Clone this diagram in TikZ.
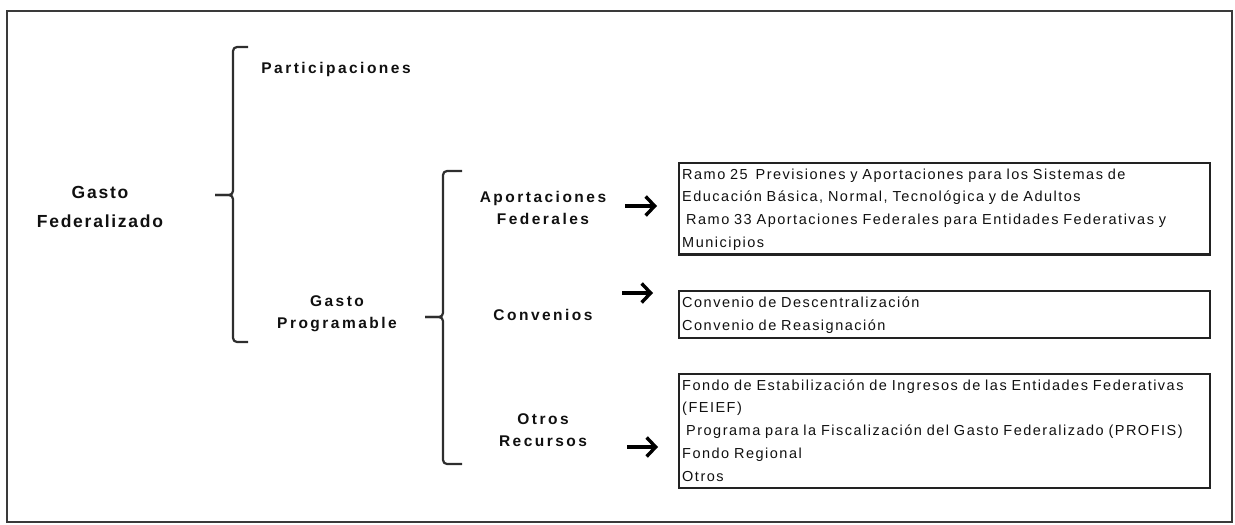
\documentclass[tikz,border=0pt]{standalone}
\usepackage{fontspec}
\setmainfont{Liberation Sans}
\newfontfamily\boxfont{Liberation Sans}[LetterSpace=10.3]
\newfontfamily\labfont{Liberation Sans}[LetterSpace=16]
\newfontfamily\bigfont{Liberation Sans}[LetterSpace=10]
\usetikzlibrary{arrows.meta}
\definecolor{framec}{HTML}{3A3A3A}
\definecolor{boxc}{HTML}{222222}
\definecolor{bracec}{HTML}{2E2E2E}
\definecolor{txtc}{HTML}{101010}
\tikzset{
  outerframe/.style={draw=framec, line width=2pt},
  bracepath/.style={draw=bracec, line width=2.2pt, rounded corners=4pt},
  lab/.style={font=\labfont\bfseries\fontsize{15.5}{22}\selectfont, align=center, inner sep=0pt, text=txtc},
  biglab/.style={font=\bigfont\bfseries\fontsize{17.5}{29}\selectfont, align=center, inner sep=0pt, text=txtc},
  listbox/.style={draw=boxc, line width=2.4pt, anchor=north west, align=left,
    inner xsep=3pt, inner ysep=0pt, text width=525pt, minimum width=531pt,
    font=\boxfont\fontsize{14.5}{22.8}\selectfont, text=txtc},
  arr/.style={draw=black, line width=3.4pt, -{Straight Barb[length=9pt,width=19pt]}}
}
\begin{document}
\begin{tikzpicture}[x=1pt,y=-1pt]
\useasboundingbox (0,0) rectangle (1235,525);
\draw[outerframe] (7,11) rectangle (1232,522);

% labels
\node[biglab] (gf) at (100,206.5) {Gasto\\Federalizado};
\node[lab, anchor=base] (part) at (336,73) {Participaciones};
\node[lab] (gp) at (337,313.5) {Gasto\\Programable};
\node[lab] (af) at (543,207.5) {Aportaciones\\Federales};
\node[lab, anchor=base] (conv) at (543,320) {Convenios};
\node[lab] (orr) at (543,430.5) {Otros\\Recursos};

% boxes
\node[listbox, minimum height=91pt] (b1) at (678,162) {%
\strut Ramo 25\hspace{3pt} Previsiones y Aportaciones para los Sistemas de\\
\strut Educación Básica, Normal, Tecnológica y de Adultos\\
\strut\hspace*{4pt}Ramo 33 Aportaciones Federales para Entidades Federativas y\\
\strut Municipios};
\node[listbox, minimum height=47pt] (b2) at (678,290) {%
\strut Convenio de Descentralización\\
\strut Convenio de Reasignación};
\node[listbox, minimum height=114pt] (b3) at (678,373) {%
\strut Fondo de Estabilización de Ingresos de las Entidades Federativas\\
\strut (FEIEF)\\
\strut\hspace*{4pt}Programa para la Fiscalización del Gasto Federalizado (PROFIS)\\
\strut Fondo Regional\\
\strut Otros};

% braces
\coordinate (p1t) at (248,47);
\coordinate (p1v) at (233,47);
\coordinate (p1m) at (233,195);
\coordinate (p1p) at (215,195);
\coordinate (p1w) at (233,342);
\coordinate (p1b) at (248,342);
\draw[bracepath] (p1t) -- (p1v) -- (p1m) -- (p1p);
\draw[bracepath] (p1p) -- (p1m) -- (p1w) -- (p1b);

\coordinate (p2t) at (462,171);
\coordinate (p2v) at (443,171);
\coordinate (p2m) at (443,317);
\coordinate (p2p) at (425,317);
\coordinate (p2w) at (443,464);
\coordinate (p2b) at (462,464);
\draw[bracepath] (p2t) -- (p2v) -- (p2m) -- (p2p);
\draw[bracepath] (p2p) -- (p2m) -- (p2w) -- (p2b);

% arrows
\coordinate (a1s) at (625,206);
\coordinate (a1e) at (657,206);
\coordinate (a2s) at (622,293);
\coordinate (a2e) at (653,293);
\coordinate (a3s) at (627,447);
\coordinate (a3e) at (658,447);
\draw[arr] (a1s) -- (a1e);
\draw[arr] (a2s) -- (a2e);
\draw[arr] (a3s) -- (a3e);
\end{tikzpicture}
\end{document}
